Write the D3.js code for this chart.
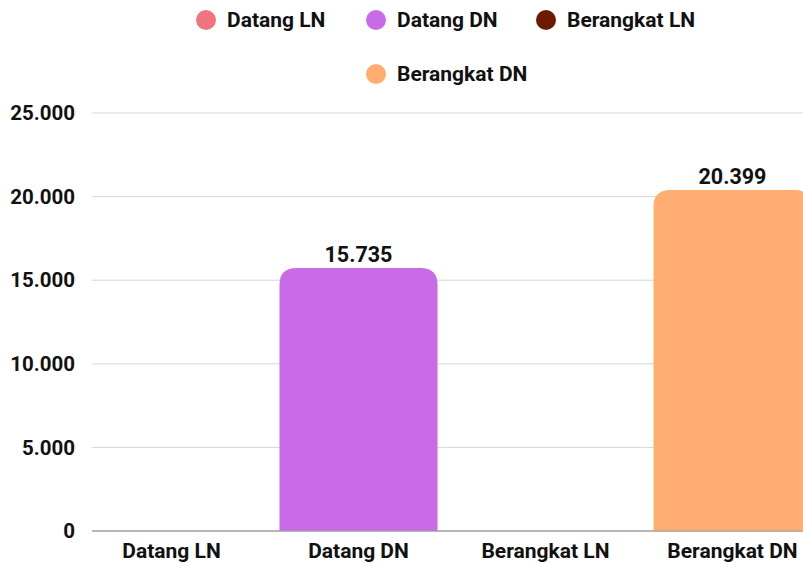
<!DOCTYPE html>
<html>
<head>
<meta charset="utf-8">
<script src="https://cdn.jsdelivr.net/npm/d3@7"></script>
<style>
  body { margin: 0; background: #fff; }
  svg { display: block; font-family: Roboto, sans-serif; }
</style>
</head>
<body>
<svg width="803" height="563"></svg>
<script>
var categories = ["Datang LN", "Datang DN", "Berangkat LN", "Berangkat DN"];
var values = [0, 15735, 0, 20399];
var colors = ["#f07580", "#c96ae6", "#6b1a00", "#ffad70"];
var yTicks = [0, 5000, 10000, 15000, 20000, 25000];

var svg = d3.select("svg"),
    width = +svg.attr("width"),
    height = +svg.attr("height");

var fmt = d3.formatLocale({ decimal: ",", thousands: ".", grouping: [3], currency: ["", ""] }).format(",d");

var x = d3.scaleBand()
    .domain(categories)
    .range([78, 826])
    .paddingInner(0.155)
    .paddingOuter(0.0775);

var y = d3.scaleLinear()
    .domain([0, 25000])
    .range([531, 113]);

// grid lines
svg.append("g")
    .selectAll("line")
    .data(yTicks)
    .enter().append("line")
    .attr("x1", 92)
    .attr("x2", width)
    .attr("y1", function(d) { return y(d); })
    .attr("y2", function(d) { return y(d); })
    .attr("stroke", function(d) { return d === 0 ? "#9e9e9e" : "#d6d6d6"; })
    .attr("stroke-width", 1);

// y labels
svg.append("g")
    .selectAll("text")
    .data(yTicks)
    .enter().append("text")
    .attr("x", 75)
    .attr("y", function(d) { return y(d); })
    .attr("dy", "0.35em")
    .attr("text-anchor", "end")
    .attr("font-size", 20.5)
    .attr("font-weight", "bold")
    .attr("fill", "#111")
    .text(function(d) { return fmt(d); });

// bars with rounded top corners
var r = 17;
function barPath(d, i) {
  var x0 = x(categories[i]), w = x.bandwidth(), y0 = y(d), y1 = y(0);
  var h = y1 - y0;
  if (h <= 0) return "";
  var rr = Math.min(r, h, w / 2);
  return "M" + x0 + "," + y1 +
    "V" + (y0 + rr) +
    "Q" + x0 + "," + y0 + " " + (x0 + rr) + "," + y0 +
    "H" + (x0 + w - rr) +
    "Q" + (x0 + w) + "," + y0 + " " + (x0 + w) + "," + (y0 + rr) +
    "V" + y1 + "Z";
}

svg.append("g")
    .selectAll("path")
    .data(values)
    .enter().append("path")
    .attr("d", barPath)
    .attr("fill", function(d, i) { return colors[i]; });

// redraw the baseline over bars
svg.append("line")
    .attr("x1", 92).attr("x2", width)
    .attr("y1", y(0)).attr("y2", y(0))
    .attr("stroke", "#9e9e9e");

// value labels
svg.append("g")
    .selectAll("text")
    .data(values)
    .enter().append("text")
    .filter(function(d) { return d > 0; })
    .attr("x", function(d) { return x(categories[values.indexOf(d)]) + x.bandwidth() / 2; })
    .attr("y", function(d) { return y(d) - 6; })
    .attr("text-anchor", "middle")
    .attr("font-size", 21.5)
    .attr("font-weight", "bold")
    .attr("fill", "#111")
    .text(function(d) { return fmt(d); });

// x labels
svg.append("g")
    .selectAll("text")
    .data(categories)
    .enter().append("text")
    .attr("x", function(d) { return x(d) + x.bandwidth() / 2; })
    .attr("y", 558)
    .attr("text-anchor", "middle")
    .attr("font-size", 21)
    .attr("font-weight", "bold")
    .attr("fill", "#111")
    .text(function(d) { return d; });

// legend
var legendPos = [[206, 20], [376, 20], [546, 20], [376, 74]];
var legend = svg.append("g")
    .selectAll("g")
    .data(categories)
    .enter().append("g")
    .attr("transform", function(d, i) { return "translate(" + legendPos[i][0] + "," + legendPos[i][1] + ")"; });
legend.append("circle")
    .attr("r", 10)
    .attr("fill", function(d, i) { return colors[i]; });
legend.append("text")
    .attr("x", 21)
    .attr("dy", "0.35em")
    .attr("font-size", 21)
    .attr("font-weight", "bold")
    .attr("fill", "#111")
    .text(function(d) { return d; });
</script>
</body>
</html>
